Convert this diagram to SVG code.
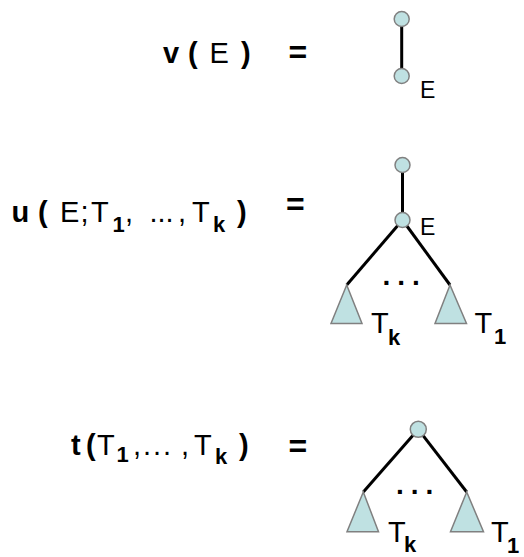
<svg xmlns="http://www.w3.org/2000/svg" width="524" height="557" viewBox="0 0 524 557">
<style>
.t{font-family:"Liberation Sans",Arial,sans-serif;font-size:29px;fill:#000}
.b{font-weight:bold}
.s{font-size:22px;font-weight:bold}
.eq{font-family:"Liberation Sans",Arial,sans-serif;font-size:32px;font-weight:bold;fill:#000}
.lab{font-family:"Liberation Sans",Arial,sans-serif;font-size:23px;fill:#000}
.tl{font-family:"Liberation Sans",Arial,sans-serif;font-size:29px;fill:#000}
.dots{font-family:"Liberation Sans",Arial,sans-serif;font-size:28px;font-weight:bold;letter-spacing:7px;fill:#000}
.node{fill:#bfe1e2;stroke:#808080;stroke-width:1.5}
.edge{stroke:#000;stroke-width:3;fill:none;stroke-linecap:butt}
</style>
<rect width="524" height="557" fill="#fff"/>

<g id="formula-v">
<text class="t"><tspan class="b" x="163" y="63">v</tspan><tspan class="b" x="188" y="63">(</tspan><tspan x="209.5" y="63">E</tspan><tspan class="b" x="241" y="63">)</tspan></text>
<text class="eq" x="288.5" y="63">=</text>
</g>

<g id="formula-u">
<text class="t"><tspan class="b" x="11.5" y="222">u</tspan><tspan class="b" x="38" y="222">(</tspan><tspan x="60" y="222">E</tspan><tspan x="80.5" y="222">;</tspan><tspan x="91" y="222">T</tspan><tspan class="s" x="112.5" y="232">1</tspan><tspan x="125" y="222">,</tspan><tspan x="149.5" y="222">...</tspan><tspan x="178" y="222">,</tspan><tspan x="192" y="222">T</tspan><tspan class="s" x="213" y="232">k</tspan><tspan class="b" x="237" y="222">)</tspan></text>
<text class="eq" x="286" y="215">=</text>
</g>

<g id="formula-t">
<text class="t"><tspan class="b" x="71" y="455">t</tspan><tspan class="b" x="86" y="455">(</tspan><tspan x="97" y="455">T</tspan><tspan class="s" x="116.5" y="462">1</tspan><tspan x="133" y="455">,</tspan><tspan x="143" y="455" letter-spacing="2">...</tspan><tspan x="181" y="455">,</tspan><tspan x="194" y="455">T</tspan><tspan class="s" x="215" y="464">k</tspan><tspan class="b" x="239" y="455">)</tspan></text>
<text class="eq" x="288.5" y="457">=</text>
</g>

<g id="connectors">
<line class="edge" x1="401.7" y1="26" x2="401.7" y2="69"/>
<line class="edge" x1="402.5" y1="172" x2="402.5" y2="213"/>
<line class="edge" x1="402.5" y1="220" x2="346.7" y2="285"/>
<line class="edge" x1="402.5" y1="220" x2="450" y2="285"/>
<line class="edge" x1="418.3" y1="429.3" x2="363.3" y2="492"/>
<line class="edge" x1="418.3" y1="429.3" x2="466.7" y2="492"/>
</g>

<g id="v-root"><circle class="node" cx="401.7" cy="19" r="7.5"/></g>
<g id="v-E"><circle class="node" cx="401.7" cy="76" r="7.5"/><text class="lab" x="420" y="98">E</text></g>

<g id="u-root"><circle class="node" cx="402.5" cy="165" r="7.5"/></g>
<g id="u-E"><circle class="node" cx="402.5" cy="220" r="7.5"/><text class="lab" x="420" y="235">E</text></g>
<g id="u-dots"><text class="dots" x="382.5" y="285">...</text></g>
<g id="u-Tk"><polygon class="node" points="346.7,285 331,323.5 362,323.5"/><text class="tl"><tspan x="371" y="333">T</tspan><tspan class="s" x="388" y="345">k</tspan></text></g>
<g id="u-T1"><polygon class="node" points="450,285 435,323.5 466.5,323.5"/><text class="tl"><tspan x="474.5" y="333">T</tspan><tspan class="s" x="494" y="344">1</tspan></text></g>

<g id="t-root"><circle class="node" cx="418.3" cy="429.3" r="8"/></g>
<g id="t-dots"><text class="dots" x="396" y="494">...</text></g>
<g id="t-Tk"><polygon class="node" points="363.3,492 347,531.7 378.5,531.7"/><text class="tl"><tspan x="388" y="541.7">T</tspan><tspan class="s" x="404" y="552">k</tspan></text></g>
<g id="t-T1"><polygon class="node" points="466.7,492 450.5,531.7 483.5,531.7"/><text class="tl"><tspan x="491" y="541.7">T</tspan><tspan class="s" x="507" y="553">1</tspan></text></g>
</svg>
